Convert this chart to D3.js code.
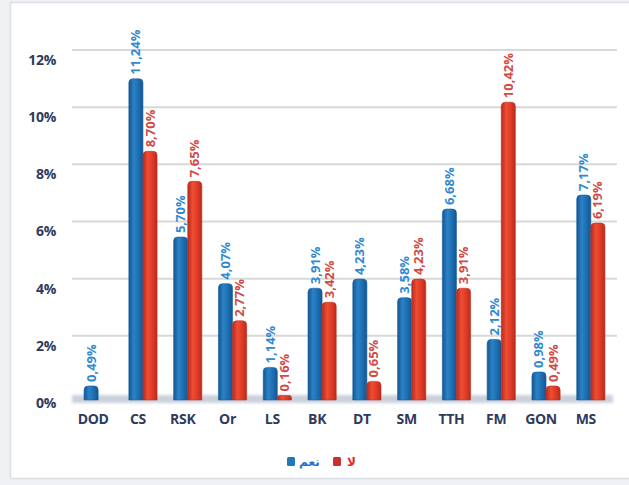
<!DOCTYPE html>
<html>
<head>
<meta charset="utf-8">
<script src="https://cdn.jsdelivr.net/npm/d3@7"></script>
<style>
  html, body { margin: 0; padding: 0; background: #eef0f4; }
  svg { display: block; }
</style>
</head>
<body>
<svg id="chart" width="629" height="485"></svg>
<script>
// Categories and the two series (percent values), null where no bar exists
const categories = ["DOD", "CS", "RSK", "Or", "LS", "BK", "DT", "SM", "TTH", "FM", "GON", "MS"];
const yesValues = [0.49, 11.24, 5.70, 4.07, 1.14, 3.91, 4.23, 3.58, 6.68, 2.12, 0.98, 7.17];
const noValues  = [null, 8.70, 7.65, 2.77, 0.16, 3.42, 0.65, 4.23, 3.91, 10.42, 0.49, 6.19];
const seriesNames = ["نعم", "لا"];
const yTicks = [0, 2, 4, 6, 8, 10, 12];

const svg = d3.select("#chart");
const W = 629, H = 485;

// Chart panel
svg.append("rect")
  .attr("x", 10.5).attr("y", 2.5).attr("width", W).attr("height", 476)
  .attr("fill", "#ffffff").attr("stroke", "#dcdfe4").attr("stroke-width", 1.5);

const defs = svg.append("defs");
function cyl(id, dark, mid, light) {
  const g = defs.append("linearGradient").attr("id", id)
    .attr("x1", "0%").attr("x2", "100%").attr("y1", "0%").attr("y2", "0%");
  g.append("stop").attr("offset", "0%").attr("stop-color", dark);
  g.append("stop").attr("offset", "35%").attr("stop-color", light);
  g.append("stop").attr("offset", "70%").attr("stop-color", mid);
  g.append("stop").attr("offset", "100%").attr("stop-color", dark);
}
cyl("gBlue", "#15558f", "#1c6db0", "#2b82c6");
cyl("gRed", "#b82a1b", "#dd3a26", "#ef4d35");
const floorBlur = defs.append("filter").attr("id", "soft")
  .attr("x", "-5%").attr("y", "-100%").attr("width", "110%").attr("height", "300%");
floorBlur.append("feGaussianBlur").attr("stdDeviation", 1.6);

const y = d3.scaleLinear().domain([0, 12]).range([400, 57]);
const x = d3.scaleBand().domain(categories).range([76, 613]).paddingInner(0.37).paddingOuter(0.18);
const xs = d3.scaleBand().domain([0, 1]).range([0, x.bandwidth()]).padding(0);

const seriesColors = ["url(#gBlue)", "url(#gRed)"];
const labelColors = ["#2f8ad0", "#d24a45"];
const legendColors = ["#1f79b8", "#c9302a"];
const axisFont = "Open Sans, sans-serif";

// Gridlines sit on the back wall, slightly above the value position
const grid = svg.append("g");
yTicks.filter(t => t > 0).forEach(t => {
  grid.append("line")
    .attr("x1", 72).attr("x2", 617)
    .attr("y1", y(t) - 7).attr("y2", y(t) - 7)
    .attr("stroke", "#d8d8d8").attr("stroke-width", 2);
});

// Floor of the plot
svg.append("rect")
  .attr("x", 72).attr("y", y(0) - 5).attr("width", 541).attr("height", 8)
  .attr("fill", "#b9c2d0").attr("opacity", 0.75).attr("filter", "url(#soft)");

// Y axis labels
const yAxis = d3.axisLeft(y).tickValues(yTicks).tickFormat(d => d + "%").tickSize(0).tickPadding(0);
const yg = svg.append("g").attr("transform", "translate(56,3)").call(yAxis);
yg.select(".domain").remove();
yg.selectAll("text")
  .attr("font-family", axisFont).attr("font-weight", 700)
  .attr("font-size", 14).attr("fill", "#2f3b5e").attr("letter-spacing", -0.3);

// X axis labels
const xAxis = d3.axisBottom(x).tickSize(0).tickPadding(0);
const xg = svg.append("g").attr("transform", "translate(-5,414)").call(xAxis);
xg.select(".domain").remove();
xg.selectAll("text")
  .attr("font-family", axisFont).attr("font-weight", 700)
  .attr("font-size", 14).attr("fill", "#2f3b5e").attr("letter-spacing", -0.3);

// Bars and rotated value labels
const rows = categories.map((c, i) => ({ c, vals: [yesValues[i], noValues[i]] }));
const fmt = v => v.toFixed(2).replace(".", ",") + "%";

rows.forEach(r => {
  r.vals.forEach((v, s) => {
    if (v === null) return;
    const bx = x(r.c) + xs(s);
    const bw = xs.bandwidth();
    const top = y(v);
    const h = y(0) - top;
    const rr = Math.min(4, h / 2);
    const path = d3.path();
    path.moveTo(bx, y(0));
    path.lineTo(bx, top + rr);
    path.quadraticCurveTo(bx, top, bx + rr, top);
    path.lineTo(bx + bw - rr, top);
    path.quadraticCurveTo(bx + bw, top, bx + bw, top + rr);
    path.lineTo(bx + bw, y(0));
    path.closePath();
    svg.append("path").attr("d", path.toString())
      .attr("fill", seriesColors[s])
      .attr("stroke", s === 0 ? "#17609f" : "#c0301f").attr("stroke-width", 0.6);

    const cx = bx + bw / 2;
    svg.append("text")
      .attr("transform", `translate(${cx + 4.5},${top - 4}) rotate(-90)`)
      .attr("text-anchor", "start")
      .attr("font-family", axisFont).attr("font-weight", 700)
      .attr("font-size", 13).attr("fill", labelColors[s])
      .text(fmt(v));
  });
});

// Legend
const legend = svg.append("g");
const legendItems = [
  { name: seriesNames[0], sx: 287, tx: 297, bw: 26 },
  { name: seriesNames[1], sx: 333, tx: 345, bw: 28 }
];
legendItems.forEach((d, i) => {
  legend.append("rect").attr("x", d.tx).attr("y", 449).attr("width", d.bw).attr("height", 21)
    .attr("fill", "#ffffff");
  legend.append("rect").attr("x", d.sx).attr("y", 457).attr("width", 8).attr("height", 9)
    .attr("rx", 1.5).attr("fill", legendColors[i]);
  legend.append("text")
    .attr("x", d.tx + 2).attr("y", 466)
    .attr("font-family", "Noto Sans, DejaVu Sans, sans-serif").attr("font-weight", 700)
    .attr("font-size", 12).attr("fill", i === 0 ? "#2a6fc9" : "#e0282a")
    .attr("direction", "ltr")
    .text(d.name);
});
</script>
</body>
</html>
